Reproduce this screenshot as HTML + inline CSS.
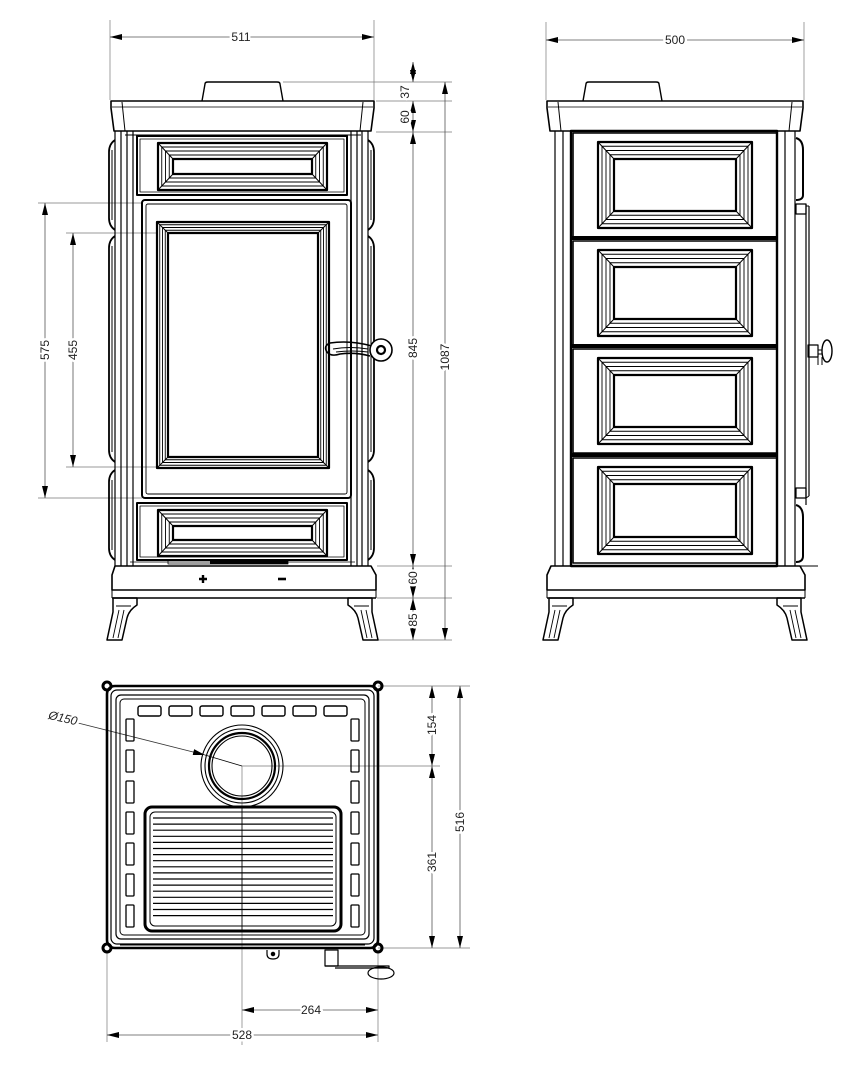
<!DOCTYPE html>
<html><head><meta charset="utf-8"><style>
html,body{margin:0;padding:0;background:#fff;width:867px;height:1078px;overflow:hidden}
svg{display:block}
text{font-family:"Liberation Sans",sans-serif;font-size:12px;fill:#222;stroke:#fff;stroke-width:5px;paint-order:stroke;stroke-linejoin:round}
</style></head><body>
<svg id="s" width="867" height="1078" viewBox="0 0 867 1078" xmlns="http://www.w3.org/2000/svg">
<defs>
<marker id="a" viewBox="0 0 12 6" refX="12" refY="3" markerWidth="12" markerHeight="6" markerUnits="userSpaceOnUse" orient="auto-start-reverse"><path d="M0,0L12,3L0,6z" fill="#000"/></marker>
</defs>
<g id="dims" stroke="#777" stroke-width="0.8" fill="none"></g>
<g id="draw" stroke="#000" fill="none" stroke-width="1.3" stroke-linejoin="round"></g>
<g id="labels">
<text x="241" y="41" text-anchor="middle">511</text>
<text x="675" y="44" text-anchor="middle">500</text>
<text transform="translate(409,92) rotate(-90)" text-anchor="middle">37</text>
<text transform="translate(409,117) rotate(-90)" text-anchor="middle">60</text>
<text transform="translate(417,348) rotate(-90)" text-anchor="middle">845</text>
<text transform="translate(417,578) rotate(-90)" text-anchor="middle">60</text>
<text transform="translate(417,620) rotate(-90)" text-anchor="middle">85</text>
<text transform="translate(449,357) rotate(-90)" text-anchor="middle">1087</text>
<text transform="translate(49,350) rotate(-90)" text-anchor="middle">575</text>
<text transform="translate(77,350) rotate(-90)" text-anchor="middle">455</text>
<text transform="translate(436,725) rotate(-90)" text-anchor="middle">154</text>
<text transform="translate(436,862) rotate(-90)" text-anchor="middle">361</text>
<text transform="translate(464,822) rotate(-90)" text-anchor="middle">516</text>
<text x="311" y="1014" text-anchor="middle">264</text>
<text x="242" y="1039" text-anchor="middle">528</text>
<text transform="translate(62,722) rotate(13)" text-anchor="middle" style="font-style:italic">Ø150</text>
</g>
</svg>
<script>
var NS="http://www.w3.org/2000/svg";
var D=document.getElementById('draw'),M=document.getElementById('dims');
function el(p,t,a){var e=document.createElementNS(NS,t);for(var k in a)e.setAttribute(k,a[k]);p.appendChild(e);return e;}
function L(x1,y1,x2,y2,w,p){return el(p||D,'line',{x1:x1,y1:y1,x2:x2,y2:y2,'stroke-width':w||1.3});}
function R(x,y,w,h,sw,rx,p){return el(p||D,'rect',{x:x,y:y,width:w,height:h,'stroke-width':sw||1.3,rx:rx||0});}
function P(d,sw,fill){return el(D,'path',{d:d,'stroke-width':sw||1.3,fill:fill||'none'});}
function dim(x1,y1,x2,y2){var e=L(x1,y1,x2,y2,0.8,M);e.setAttribute('marker-start','url(#a)');e.setAttribute('marker-end','url(#a)');e.setAttribute('stroke','#555');}
function ext(x1,y1,x2,y2){L(x1,y1,x2,y2,0.7,M);}
function panel(x1,y1,x2,y2,ix,iy){
 R(x1,y1,x2-x1,y2-y1,2.2);
 for(var i=1;i<=3;i++){var t=i*ix/4,u=i*iy/4;R(x1+t,y1+u,x2-x1-2*t,y2-y1-2*u,0.9);}
 R(x1+ix,y1+iy,x2-x1-2*ix,y2-y1-2*iy,2.2);
 L(x1,y1,x1+ix,y1+iy,1);L(x2,y1,x2-ix,y1+iy,1);L(x1,y2,x1+ix,y2-iy,1);L(x2,y2,x2-ix,y2-iy,1);
}
// FRONT
ext(110,20,110,100);ext(374,20,374,100);dim(110,37,374,37);
ext(283,82,452,82);
[101,132].forEach(function(y){ext(376,y,452,y);});
[566,598,640].forEach(function(y){ext(377,y,452,y);});
dim(413,62,413,82);dim(413,101,413,132);dim(413,132,413,566);dim(413,566,413,598);dim(413,598,413,640);
dim(445,82,445,640);
ext(38,203,142,203);ext(38,498,142,498);ext(66,233,157,233);ext(66,467,157,467);
dim(45,203,45,498);dim(73,233,73,467);
P("M202,101 L205,84 Q205,82 208,82 L277,82 Q280,82 280,84 L283,101",1.4);
P("M111,101 L374,101 L374,108 L371,131 L114,131 L111,108 Z",1.6);
L(122,102,125,131,1);L(363,102,360,131,1);L(112,107,373,107,0.8);
L(125,135,361,135,1);
[115,121,127,133].forEach(function(x){L(x,131,x,566,1.2);});
[351,357,362,368].forEach(function(x){L(x,131,x,566,1.2);});
[[140,230],[236,462],[470,560]].forEach(function(s){
 P("M115,"+s[0]+" Q109,"+(s[0]+4)+" 109,"+(s[0]+12)+" L109,"+(s[1]-12)+" Q109,"+(s[1]-4)+" 115,"+s[1],1.8);
 P("M368,"+s[0]+" Q374,"+(s[0]+4)+" 374,"+(s[0]+12)+" L374,"+(s[1]-12)+" Q374,"+(s[1]-4)+" 368,"+s[1],1.8);
 L(112,s[0]+10,112,s[1]-10,1);L(371,s[0]+10,371,s[1]-10,1);
});
R(137,136,210,59,2);R(140,139,204,53,0.8);
panel(158,143,327,190,15,16);
R(142,200,209,298,2,3);R(146,204,201,290,0.9,2);
panel(157,222,329,468,11,11);
R(137,503,210,57,2);R(140,506,204,51,0.8);
panel(158,510,327,556,15,16);
R(168,560,120,4,0.8);el(D,'rect',{x:210,y:560,width:78,height:4,fill:'#000','stroke-width':0});
L(130,562,355,562,0.8);
P("M115,566 L371,566 L376,575 L376,590 L112,590 L112,575 Z",1.6);L(112,590,112,598,1);L(376,590,376,598,1);L(112,598,376,598,1.4);
P("M203,575 L203,583 M199,579 L207,579",2.4);P("M278,579 L286,579",2.6);
function leg(x0,s){
 function X(d){return x0+s*d;}
 P("M"+X(6)+",598 L"+X(30)+",598 L"+X(30)+",605 Q"+X(22)+",610 "+X(20)+",618 L"+X(15)+",640 L"+X(0)+",640 L"+X(6)+",612 Z",1.5);
 P("M"+X(9)+",606 L"+X(24)+",606 M"+X(12)+",610 L"+X(6)+",638 M"+X(17)+",610 L"+X(11)+",638",0.9);
}
leg(107,1);leg(378,-1);
P("M372,346 Q350,340 330,343 Q323,346 327,352 Q331,357 340,354 Q355,352 370,356",1.6);
P("M333,349 Q350,346 368,349 M336,352 Q352,350 368,352",0.9);
el(D,'circle',{cx:381,cy:350,r:11,'stroke-width':1.6,fill:'#fff'});el(D,'circle',{cx:381,cy:350,r:4,'stroke-width':2.2});
// RIGHT
ext(546,22,546,100);ext(804,22,804,100);dim(546,40,804,40);
P("M583,101 L586,84 Q586,82 589,82 L656,82 Q659,82 659,84 L662,101",1.4);
P("M547,101 L803,101 L803,108 L800,131 L550,131 L547,108 Z",1.6);
L(558,102,561,131,1);L(792,102,789,131,1);L(548,107,802,107,0.8);
[555,563].forEach(function(x){L(x,131,x,566,1.2);});
[785,795].forEach(function(x){L(x,131,x,566,1.2);});
R(571,131,206,435,2.4);
[[133,237],[241,345],[349,453],[458,563]].forEach(function(d,i){
 R(573,d[0],204,d[1]-d[0],1.6);
 if(i>0){el(D,'rect',{x:572,y:d[0]-5,width:206,height:4,fill:'#000','stroke-width':0});}
 panel(598,d[0]+9,752,d[1]-9,16,17);
});
P("M796,138 Q803,140 803,150 L803,195 Q803,200 796,200",2);
R(796,204,10,10,1.2);L(806,206,809,206,1);L(806,204,806,505,1.2);L(809,206,809,496,1.2);L(809,496,806,498,1);
R(796,488,10,10,1.2);
P("M796,505 Q803,507 803,517 L803,556 Q803,562 796,562",2);
L(798,566,818,566,1);
R(808,345,10,12,1.2);P("M818,350 L822,350 M818,354 L822,354",1);
el(D,'ellipse',{cx:827,cy:351,rx:5,ry:11,'stroke-width':1.4});L(818,357,818,365,1);L(822,357,822,365,1);
P("M551,566 L800,566 L805,575 L805,590 L547,590 L547,575 Z",1.6);L(547,590,547,598,1);L(805,590,805,598,1);L(547,598,805,598,1.4);
leg(543,1);leg(807,-1);
// PLAN
ext(242,766,242,1045);ext(242,766,440,766);
[686,948].forEach(function(y){ext(378,y,470,y);});
dim(432,686,432,766);dim(432,766,432,948);dim(460,686,460,948);
ext(107,950,107,1042);ext(378,950,378,1042);
dim(242,1010,378,1010);dim(107,1035,378,1035);
var ld=L(78,723,205,755,0.8);ld.setAttribute('marker-end','url(#a)');ld.setAttribute('stroke','#333');L(205,755,242,766,0.8);
R(107,686,271,262,2.6,8);R(111,690,263,254,1.2,6);R(116,695,253,244,1.2,5);R(120,699,245,236,1,4);
[[107,686],[378,686],[107,948],[378,948]].forEach(function(c){el(D,'circle',{cx:c[0],cy:c[1],r:4,'stroke-width':3});});
for(var i=0;i<7;i++){R(138+i*31,706,23,10,1.4,2);}
for(var i=0;i<7;i++){var y=719+i*31;R(126,y,8,22,1.3,1);R(351,y,8,22,1.3,1);}
[41,37,33,30].forEach(function(r,i){el(D,'circle',{cx:242,cy:766,r:r,'stroke-width':(i==2?2.2:1.1)});});
R(145,807,196,124,3,7);R(150,812,186,114,1,5);
for(var y=818;y<=921;y+=6.1){L(153,y,333,y,1.2);}
L(242,807,242,931,0.8);
L(120,945,365,945,1);L(140,948,340,948,1);
P("M267,950 L267,954 Q267,959 273,959 Q279,959 279,954 L279,950",1.2);el(D,'circle',{cx:273,cy:954,r:1.6,fill:'#000'});
R(325,950,13,16,1.2);P("M325,966 L389,966 L389,968 M335,968 L389,968",1.2);
el(D,'ellipse',{cx:381,cy:973,rx:13,ry:6,'stroke-width':1.2});
</script>
</body></html>
